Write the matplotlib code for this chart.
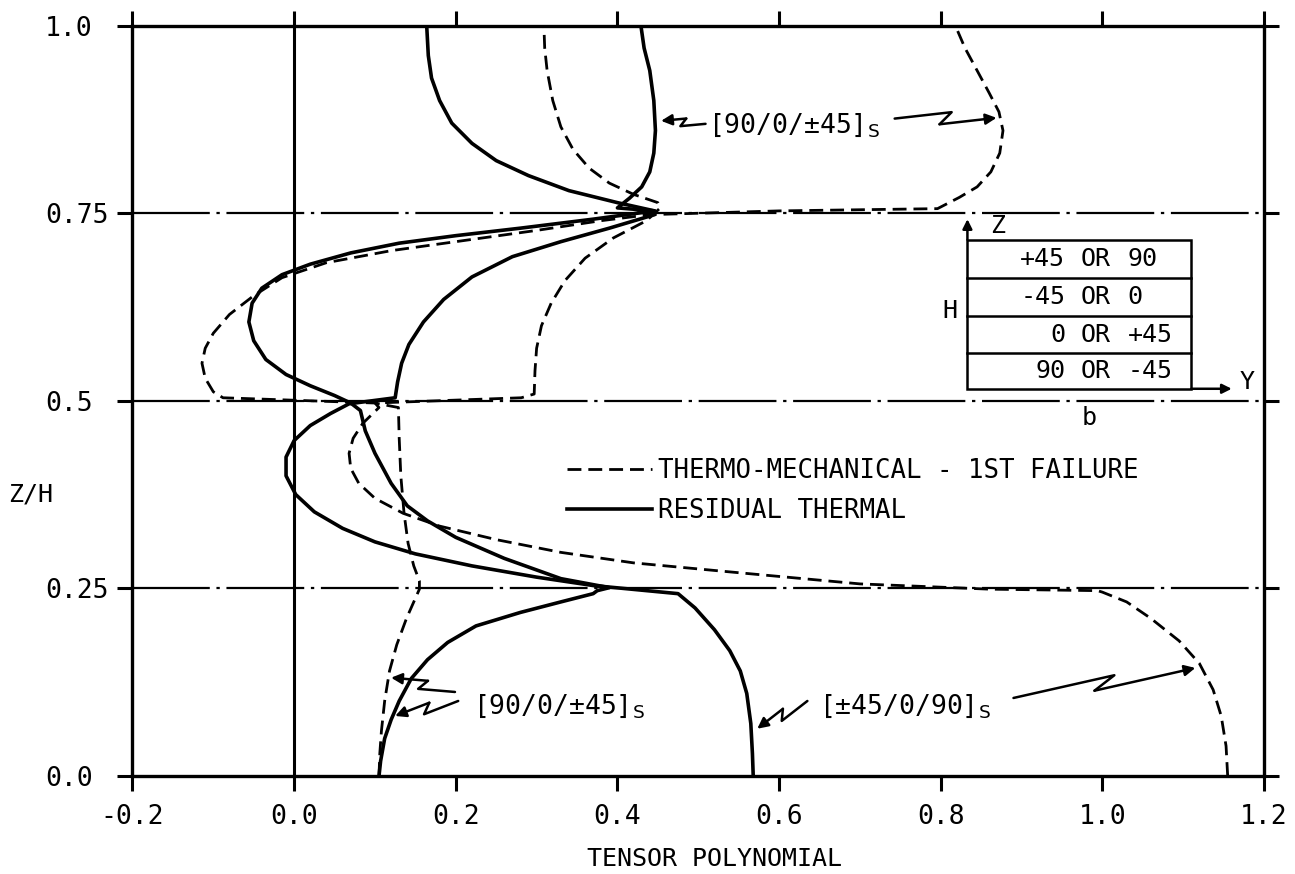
import numpy as np
import matplotlib
matplotlib.use('Agg')
import matplotlib.pyplot as plt
from matplotlib.patches import Rectangle

plt.rcParams['font.family'] = ['DejaVu Sans Mono', 'DejaVu Sans']
plt.rcParams['mathtext.fontset'] = 'dejavusans'

# [90/0/±45]s - residual thermal (solid)
rt_a_x = [0.105, 0.107, 0.112, 0.12, 0.13, 0.145, 0.165, 0.19, 0.225, 0.28, 0.33, 0.37, 0.375,
          0.39, 0.33, 0.26, 0.20, 0.165, 0.14, 0.12, 0.10, 0.088, 0.082,
          0.07, 0.05, 0.02, -0.01, -0.035, -0.05, -0.056, -0.052, -0.04, -0.015, 0.02, 0.07,
          0.13, 0.20, 0.28, 0.37, 0.446,
          0.40, 0.415, 0.43, 0.44, 0.445, 0.447, 0.445, 0.44, 0.433, 0.429]
rt_a_z = [0.0, 0.02, 0.05, 0.075, 0.10, 0.13, 0.155, 0.178, 0.20, 0.218, 0.232, 0.243, 0.247,
          0.251, 0.263, 0.29, 0.318, 0.34, 0.36, 0.39, 0.43, 0.46, 0.487,
          0.497, 0.507, 0.52, 0.535, 0.555, 0.58, 0.605, 0.63, 0.65, 0.668, 0.682, 0.697,
          0.71, 0.72, 0.73, 0.742, 0.753,
          0.757, 0.77, 0.785, 0.805, 0.83, 0.86, 0.90, 0.94, 0.97, 1.0]

# [90/0/±45]s - thermo-mechanical 1st failure (dashed)
tm_a_x = [0.105, 0.106, 0.108, 0.112, 0.118, 0.127, 0.139, 0.155,
          0.155, 0.148, 0.141, 0.136, 0.132, 0.13, 0.129,
          0.10, -0.088, -0.10, -0.11, -0.114, -0.11, -0.10, -0.08, -0.05, -0.015, 0.04,
          0.12, 0.20, 0.30, 0.38, 0.44,
          0.60, 0.796, 0.823, 0.845, 0.862, 0.873, 0.877, 0.872, 0.86, 0.845, 0.83, 0.818]
tm_a_z = [0.0, 0.03, 0.06, 0.10, 0.14, 0.175, 0.21, 0.249,
          0.26, 0.28, 0.31, 0.35, 0.40, 0.45, 0.491,
          0.497, 0.504, 0.512, 0.53, 0.55, 0.57, 0.59, 0.615, 0.64, 0.664, 0.684,
          0.70, 0.712, 0.727, 0.74, 0.748,
          0.753, 0.756, 0.771, 0.785, 0.805, 0.83, 0.86, 0.885, 0.91, 0.94, 0.97, 1.0]

# [±45/0/90]s - residual thermal (solid)
rt_b_x = [0.568, 0.567, 0.565, 0.56, 0.552, 0.539, 0.52, 0.496, 0.475, 0.378,
          0.375, 0.30, 0.22, 0.15, 0.10, 0.06, 0.025, 0.002, -0.01, -0.01, 0.0, 0.02, 0.045, 0.068,
          0.125, 0.128, 0.133, 0.142, 0.16, 0.185, 0.22, 0.27, 0.33, 0.39, 0.446,
          0.446, 0.40, 0.34, 0.29, 0.25, 0.22, 0.195, 0.18, 0.17, 0.166, 0.164]
rt_b_z = [0.0, 0.03, 0.07, 0.11, 0.14, 0.167, 0.195, 0.224, 0.243, 0.253,
          0.253, 0.265, 0.28, 0.296, 0.312, 0.33, 0.352, 0.375, 0.40, 0.425, 0.447, 0.467, 0.483, 0.496,
          0.504, 0.525, 0.55, 0.575, 0.605, 0.635, 0.665, 0.692, 0.712, 0.73, 0.748,
          0.753, 0.764, 0.78, 0.80, 0.82, 0.843, 0.87, 0.90, 0.93, 0.96, 1.0]

# [±45/0/90]s - thermo-mechanical 1st failure (dashed)
tm_b_x = [1.155, 1.153, 1.147, 1.137, 1.12, 1.095, 1.06, 1.03, 1.0,
          0.994, 0.86, 0.70, 0.539, 0.42, 0.33, 0.25, 0.18, 0.135, 0.10, 0.08, 0.07, 0.068, 0.073,
          0.085, 0.105,
          0.10, 0.281, 0.297,
          0.298, 0.30, 0.306, 0.318, 0.335, 0.36, 0.395, 0.436,
          0.453, 0.45, 0.42, 0.39, 0.365, 0.345, 0.33, 0.32, 0.313, 0.31, 0.309]
tm_b_z = [0.0, 0.04, 0.08, 0.115, 0.15, 0.18, 0.21, 0.232, 0.245,
          0.247, 0.249, 0.256, 0.272, 0.284, 0.298, 0.315, 0.333, 0.35, 0.37, 0.39, 0.41, 0.43, 0.45,
          0.47, 0.491,
          0.497, 0.504, 0.509,
          0.54, 0.57, 0.60, 0.63, 0.66, 0.69, 0.717, 0.74,
          0.757, 0.764, 0.775, 0.79, 0.81, 0.835, 0.865, 0.90, 0.94, 0.97, 1.0]

ply_bounds = [0.25, 0.5, 0.75]
x_ticks = [-0.2, 0.0, 0.2, 0.4, 0.6, 0.8, 1.0, 1.2]
y_ticks = [0.0, 0.25, 0.5, 0.75, 1.0]
y_labels = ['0.0', '0.25', '0.5', '0.75', '1.0']
ply_a = ['+45', '-45', '0', '90']
ply_b = ['90', '0', '+45', '-45']

fig = plt.figure(figsize=(12.95, 8.74), dpi=100)
ax = fig.add_axes([0.1023, 0.1121, 0.8738, 0.8587])
ax.set_xlim(-0.2, 1.2)
ax.set_ylim(0, 1)

dash = (0, (5, 2.5))
ax.plot(tm_a_x, tm_a_z, color='k', lw=2.0, ls=dash, label='THERMO-MECHANICAL - 1ST FAILURE')
ax.plot(rt_a_x, rt_a_z, color='k', lw=2.6, label='RESIDUAL THERMAL')
ax.plot(tm_b_x, tm_b_z, color='k', lw=2.0, ls=dash)
ax.plot(rt_b_x, rt_b_z, color='k', lw=2.6)

for b in ply_bounds:
    ax.axhline(b, color='k', lw=1.6, ls=(0, (35, 3, 1.5, 3)), zorder=1)
ax.axvline(0.0, color='k', lw=2.2, zorder=1)

for s in ax.spines.values():
    s.set_linewidth(2.4)

ax.set_xticks(x_ticks)
ax.set_xticklabels(['%.1f' % v for v in x_ticks])
ax.set_yticks(y_ticks)
ax.set_yticklabels(y_labels)
ax.tick_params(which='both', direction='out', length=11, width=2.2,
               top=True, right=True, labelsize=19)
ax.tick_params(axis='x', pad=9)
ax.tick_params(axis='y', pad=52)
for lab in ax.get_yticklabels():
    lab.set_horizontalalignment('left')

ax.set_xlabel('TENSOR POLYNOMIAL', fontsize=18)
ax.xaxis.set_label_coords(0.514, -0.094)
ax.set_ylabel('Z/H', fontsize=18, rotation=0, va='center', ha='center')
ax.yaxis.set_label_coords(-0.09, 0.375)

ax.legend(loc='center left', bbox_to_anchor=(0.384, 0.38), frameon=False,
          fontsize=18.5, handlelength=3.3, handletextpad=0.25, labelspacing=0.55,
          borderpad=0, borderaxespad=0)


def bolt(start, end, h=6):
    t = ax.transData
    p0 = np.array(t.transform(start))
    p1 = np.array(t.transform(end))
    v = p1 - p0
    u = v / np.hypot(*v)
    n = np.array([-u[1], u[0]])
    m1 = p0 + 0.56 * v + h * n
    m2 = p0 + 0.44 * v - h * n
    pts = t.inverted().transform(np.array([p0, m1, m2]))
    ax.plot(pts[:, 0], pts[:, 1], color='k', lw=1.8, solid_capstyle='round')
    ax.annotate('', xy=end, xytext=tuple(pts[2]),
                arrowprops=dict(arrowstyle='-|>', color='k', lw=1.8,
                                mutation_scale=16, shrinkA=0, shrinkB=0))


lab_a = '[90/0/±45]$_{\\mathsf{S}}$'
lab_b = '[±45/0/90]$_{\\mathsf{S}}$'
ax.text(0.512, 0.867, lab_a, fontsize=19, ha='left', va='center')
bolt((0.509, 0.869), (0.454, 0.873), h=4)
bolt((0.743, 0.876), (0.869, 0.877))

ax.text(0.221, 0.093, lab_a, fontsize=19, ha='left', va='center')
bolt((0.199, 0.112), (0.12, 0.131), h=5)
bolt((0.203, 0.10), (0.125, 0.08), h=5)

ax.text(0.649, 0.093, lab_b, fontsize=19, ha='left', va='center')
bolt((0.635, 0.10), (0.573, 0.063), h=5)
bolt((0.890, 0.104), (1.115, 0.144))

# laminate sketch
box_l, box_r, box_b, box_t = 0.833, 1.110, 0.516, 0.7147
row_edges = [0.7147, 0.664, 0.613, 0.563, 0.516]
ax.add_patch(Rectangle((box_l, box_b), box_r - box_l, box_t - box_b,
                       fill=False, lw=1.8, color='k'))
for e in row_edges[1:-1]:
    ax.plot([box_l, box_r], [e, e], color='k', lw=1.8)
for i in range(4):
    zc = (row_edges[i] + row_edges[i + 1]) / 2
    ax.text(0.954, zc, ply_a[i], fontsize=18, ha='right', va='center')
    ax.text(0.992, zc, 'OR', fontsize=18, ha='center', va='center')
    ax.text(1.031, zc, ply_b[i], fontsize=18, ha='left', va='center')
ax.annotate('', xy=(box_l, 0.742), xytext=(box_l, box_t),
            arrowprops=dict(arrowstyle='-|>', color='k', lw=1.8, mutation_scale=14,
                            shrinkA=0, shrinkB=0))
ax.annotate('', xy=(1.16, box_b), xytext=(box_r, box_b),
            arrowprops=dict(arrowstyle='-|>', color='k', lw=1.8, mutation_scale=14,
                            shrinkA=0, shrinkB=0))
ax.text(0.870, 0.733, 'Z', fontsize=18, ha='center', va='center')
ax.text(1.179, 0.525, 'Y', fontsize=18, ha='center', va='center')
ax.text(0.82, 0.62, 'H', fontsize=18, ha='right', va='center')
ax.text(0.984, 0.477, 'b', fontsize=18, ha='center', va='center')

fig.savefig('out.png', dpi=100)
